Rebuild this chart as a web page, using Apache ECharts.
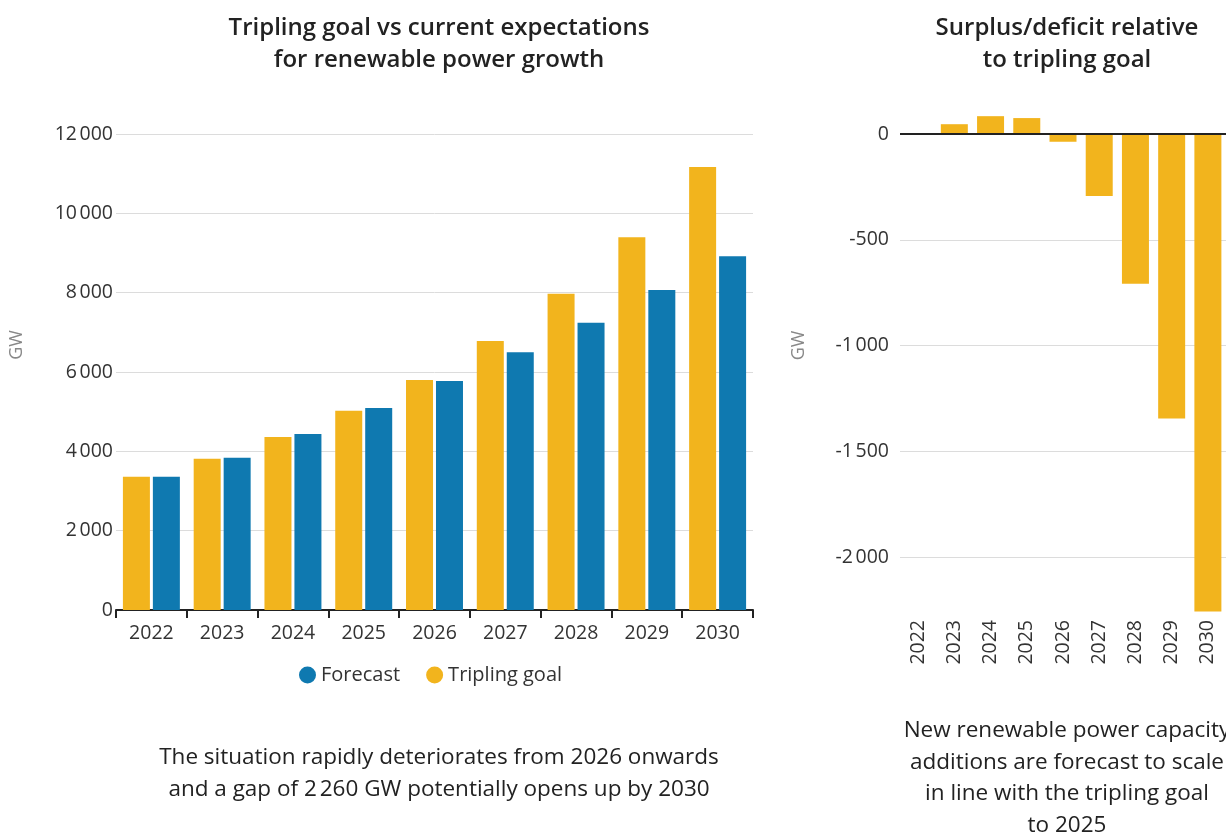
<!DOCTYPE html>
<html>
<head>
<meta charset="utf-8">
<script src="https://cdn.jsdelivr.net/npm/echarts@6/dist/echarts.min.js"></script>
<style>
  html, body { margin: 0; padding: 0; background: #fff; }
  #chart { width: 1226px; height: 838px; }
</style>
</head>
<body>
<div id="chart"></div>
<script>
const years = ['2022', '2023', '2024', '2025', '2026', '2027', '2028', '2029', '2030'];
const triplingGoal = [3360, 3810, 4360, 5020, 5800, 6780, 7970, 9400, 11170];
const forecast = [3360, 3840, 4440, 5090, 5770, 6500, 7240, 8070, 8920];
const surplusDeficit = [0, 47, 85, 76, -36, -292, -707, -1345, -2258];

const YELLOW = '#F2B41D';
const BLUE = '#0F79B0';
const FONT = '"Open Sans", "Noto Sans", sans-serif';

// 12000 -> "12 000"
function fmt(v) {
  return String(v).replace(/\B(?=(\d{3})+(?!\d))/g, '\u202f');
}

const chart = echarts.init(document.getElementById('chart'));
chart.setOption({
  animation: false,
  textStyle: { fontFamily: FONT },
  title: [
    {
      text: 'Tripling goal vs current expectations\nfor renewable power growth',
      left: 434, top: 7, textAlign: 'center',
      textStyle: { fontSize: 24, fontWeight: 600, color: '#222', lineHeight: 32, fontFamily: FONT }
    },
    {
      text: 'Surplus/deficit relative\nto tripling goal',
      left: 1062, top: 7, textAlign: 'center',
      textStyle: { fontSize: 24, fontWeight: 600, color: '#222', lineHeight: 32, fontFamily: FONT }
    },
    {
      text: 'The situation rapidly deteriorates from 2026 onwards\nand a gap of 2\u202f260 GW potentially opens up by 2030',
      left: 434, top: 737, textAlign: 'center',
      textStyle: { fontSize: 22.5, fontWeight: 400, color: '#222', lineHeight: 32, fontFamily: FONT }
    },
    {
      text: 'New renewable power capacity\nadditions are forecast to scale\nin line with the tripling goal\nto 2025',
      left: 1062, top: 710, textAlign: 'center',
      textStyle: { fontSize: 22.5, fontWeight: 400, color: '#222', lineHeight: 31.5, fontFamily: FONT }
    }
  ],
  legend: {
    data: ['Forecast', 'Tripling goal'],
    left: 294, top: 660,
    icon: 'circle', itemWidth: 17, itemHeight: 17, itemGap: 26, itemTextGap: 9,
    textStyle: { fontSize: 20, color: '#333', fontFamily: FONT }
  },
  grid: [
    { left: 115, top: 134, width: 638, height: 476 },
    { left: 900, top: 113, width: 326, height: 499 }
  ],
  xAxis: [
    {
      type: 'category', gridIndex: 0, data: years,
      axisLine: { lineStyle: { color: '#222', width: 2 } },
      axisTick: { show: true, length: 8, lineStyle: { color: '#222', width: 2 } },
      axisLabel: { fontSize: 19.5, color: '#333', margin: 13 }
    },
    {
      type: 'category', gridIndex: 1, data: years,
      axisLine: { show: false, onZero: false },
      axisTick: { show: false },
      axisLabel: { fontSize: 19.5, color: '#333', rotate: 90, margin: 8 }
    }
  ],
  yAxis: [
    {
      type: 'value', gridIndex: 0, min: 0, max: 12000, interval: 2000,
      name: 'GW', nameLocation: 'middle', nameGap: 90,
      nameTextStyle: { fontSize: 18, color: '#888', padding: [0, 0, 0, 54] },
      axisLine: { show: false }, axisTick: { show: false },
      axisLabel: { fontSize: 19.5, color: '#333', margin: 3, formatter: fmt },
      splitLine: { lineStyle: { color: '#dcdcdc', width: 1 } }
    },
    {
      type: 'value', gridIndex: 1, min: -2260, max: 100, splitNumber: 5,
      name: 'GW', nameLocation: 'middle', nameGap: 92,
      nameTextStyle: { fontSize: 18, color: '#888', padding: [0, 0, 0, 34] },
      axisLine: { show: false }, axisTick: { show: false },
      axisLabel: { fontSize: 19.5, color: '#333', margin: 11, formatter: fmt, showMinLabel: false, showMaxLabel: false },
      splitLine: { showMinLine: false, showMaxLine: false, lineStyle: { color: '#dcdcdc', width: 1 } }
    }
  ],
  series: [
    {
      name: 'Tripling goal', type: 'bar', xAxisIndex: 0, yAxisIndex: 0,
      data: triplingGoal, barWidth: 27, barGap: '11%',
      itemStyle: { color: YELLOW }
    },
    {
      name: 'Forecast', type: 'bar', xAxisIndex: 0, yAxisIndex: 0,
      data: forecast, barWidth: 27, barGap: '11%',
      itemStyle: { color: BLUE }
    },
    {
      name: 'Surplus/deficit', type: 'bar', xAxisIndex: 1, yAxisIndex: 1,
      data: surplusDeficit, barWidth: 27,
      itemStyle: { color: YELLOW },
      markLine: {
        silent: true, symbol: 'none', label: { show: false },
        lineStyle: { color: '#222', width: 2, type: 'solid' },
        data: [{ yAxis: 0 }]
      }
    }
  ]
});
</script>
</body>
</html>
